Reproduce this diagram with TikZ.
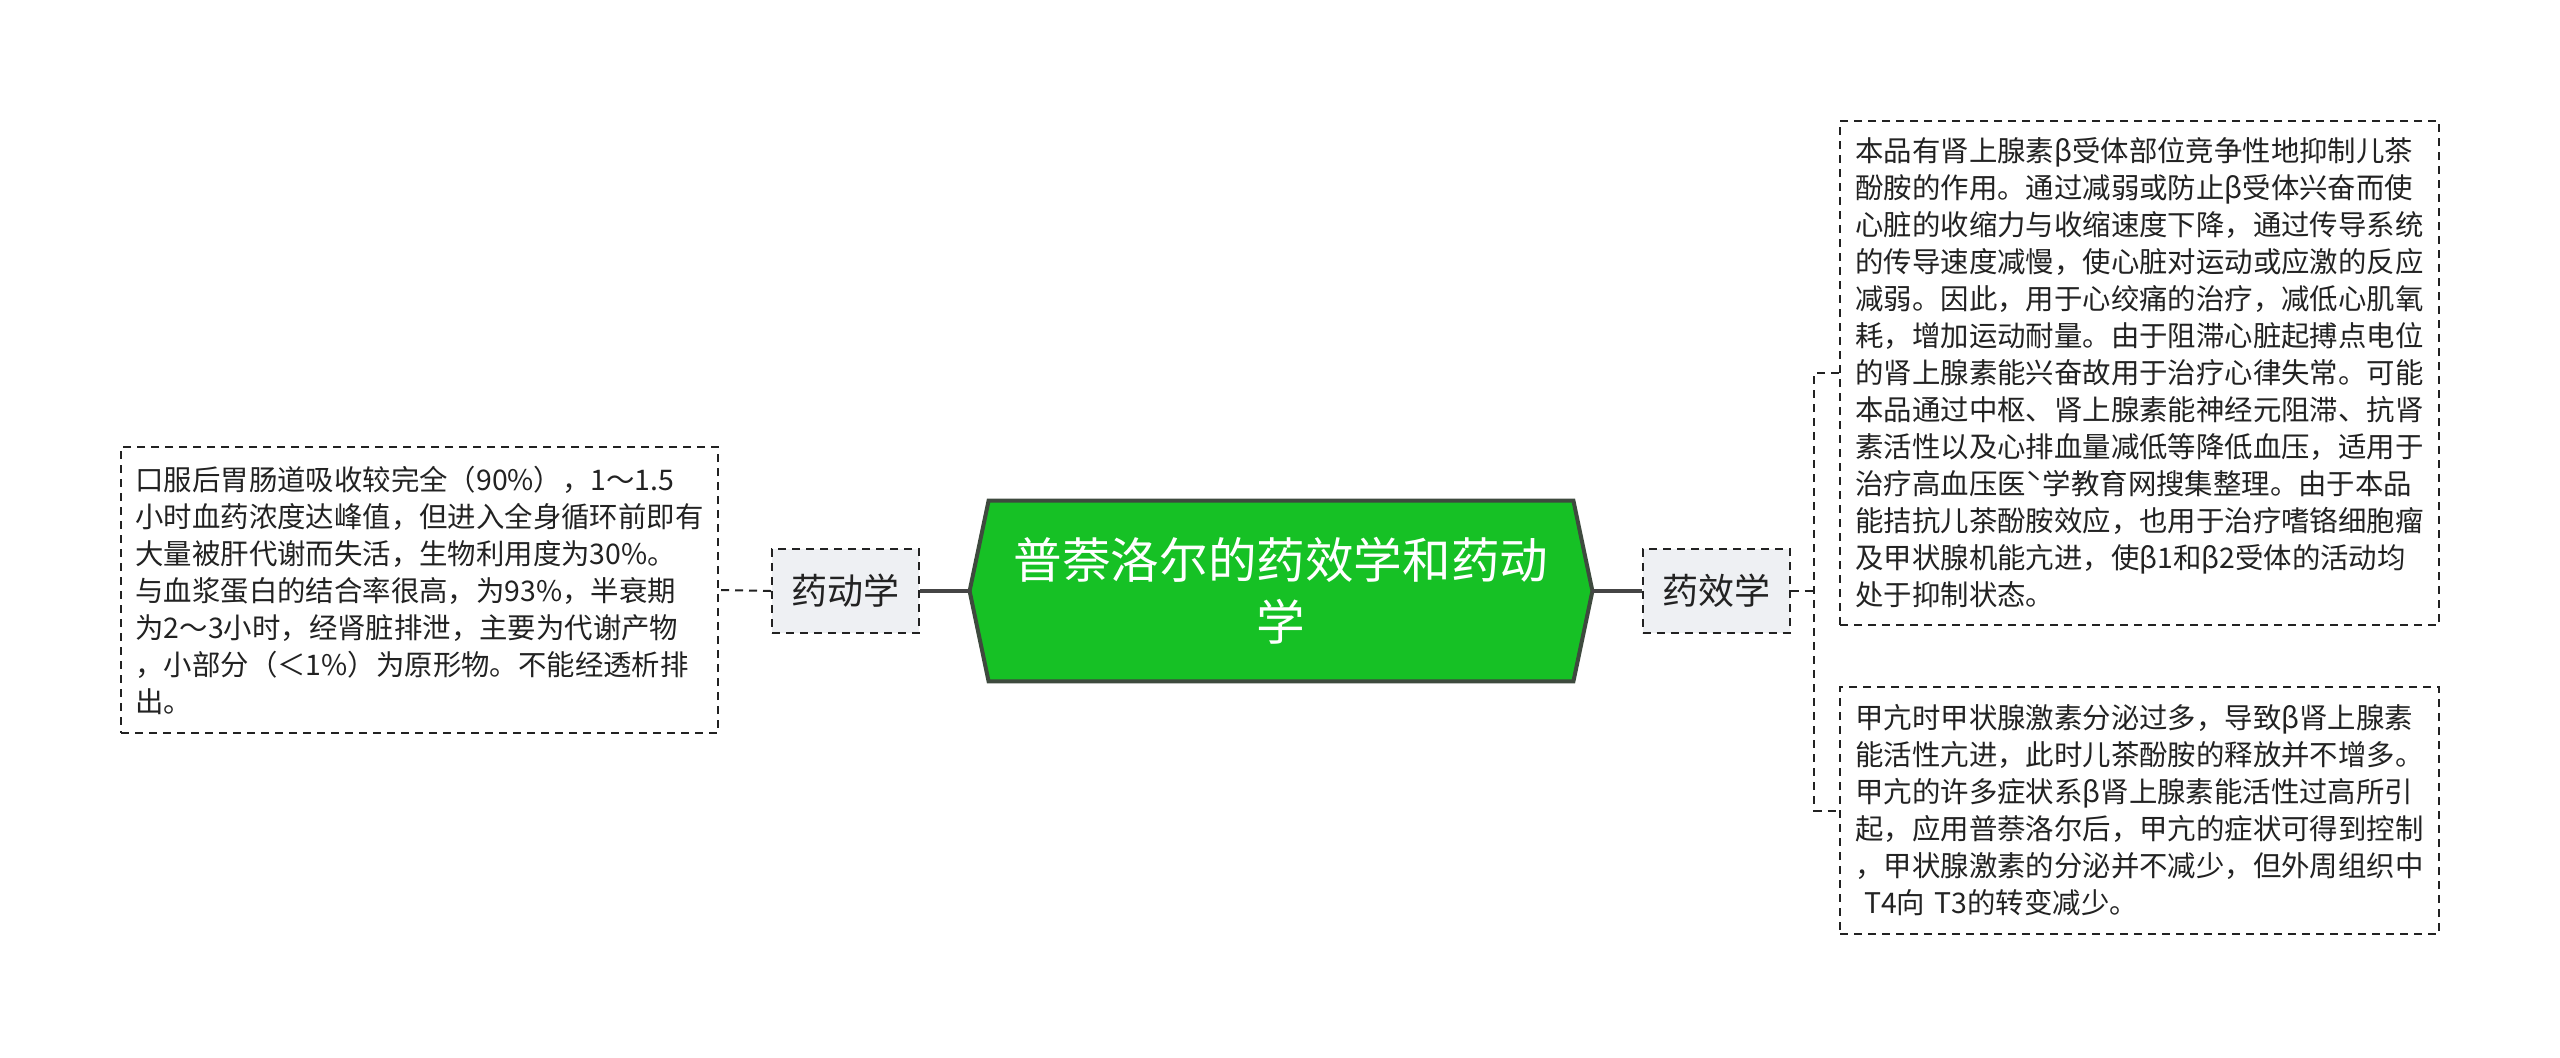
\documentclass[tikz,border=0pt]{standalone}
\usepackage{fontspec}
\setmainfont{Noto Sans CJK SC}
\usetikzlibrary{calc}
\definecolor{hexgreen}{HTML}{16C125}
\definecolor{hexborder}{HTML}{3E4A3E}
\definecolor{linegray}{HTML}{454545}
\definecolor{boxfill}{HTML}{EEF0F3}
\definecolor{txt}{HTML}{222222}
\begin{document}
\begin{tikzpicture}[x=0.5pt,y=-0.5pt,
  dashbox/.style={draw=txt, line width=1pt, dash pattern=on 4pt off 3pt, inner sep=0pt},
  textbox/.style={dashbox, fill=white, align=left, text=txt,
    font=\fontsize{14.2pt}{18.5pt}\selectfont, text width=284pt},
  topicbox/.style={dashbox, fill=boxfill, text=txt, font=\fontsize{18pt}{22pt}\selectfont,
    minimum width=73.5pt, minimum height=42pt},
  hexframe/.style={minimum width=311pt, minimum height=90pt, inner sep=0pt},
  hextext/.style={text=white, align=center, font=\fontsize{24.3pt}{31pt}\selectfont},
  thickline/.style={draw=linegray, line width=2pt},
  dashline/.style={draw=txt, line width=1pt, dash pattern=on 4pt off 3pt}
]
\useasboundingbox (0,0) rectangle (2560,1057);

% central topic
\node[hexframe] (c) at (1281,591) {};
\draw[fill=hexgreen, draw=hexborder, line width=2pt, line join=miter]
  ($(c.north west)+(19,0)$) -- ($(c.north east)+(-19,0)$) -- (c.east) --
  ($(c.south east)+(-19,0)$) -- ($(c.south west)+(19,0)$) -- (c.west) -- cycle;
\node[hextext] (ct) at (c.center) {普萘洛尔的药效学和药动\\学};

% subtopics
\node[topicbox] (dyx) at (845.5,591) {药动学};
\node[topicbox] (xx) at (1716,591) {药效学};

% left text
\node[textbox, minimum width=298.5pt, minimum height=143pt] (lt) at (419.5,590) {%
口服后胃肠道吸收较完全（90\%），1～1.5\\
小时血药浓度达峰值，但进入全身循环前即有\\
大量被肝代谢而失活，生物利用度为30\%。\\
与血浆蛋白的结合率很高，为93\%，半衰期\\
为2～3小时，经肾脏排泄，主要为代谢产物\\
，小部分（＜1\%）为原形物。不能经透析排\\
出。};

% right texts
\node[textbox, minimum width=299.5pt, minimum height=252pt] (rt) at (2139.5,373) {%
本品有肾上腺素β受体部位竞争性地抑制儿茶\\
酚胺的作用。通过减弱或防止β受体兴奋而使\\
心脏的收缩力与收缩速度下降，通过传导系统\\
的传导速度减慢，使心脏对运动或应激的反应\\
减弱。因此，用于心绞痛的治疗，减低心肌氧\\
耗，增加运动耐量。由于阻滞心脏起搏点电位\\
的肾上腺素能兴奋故用于治疗心律失常。可能\\
本品通过中枢、肾上腺素能神经元阻滞、抗肾\\
素活性以及心排血量减低等降低血压，适用于\\
治疗高血压医ˋ学教育网搜集整理。由于本品\\
能拮抗儿茶酚胺效应，也用于治疗嗜铬细胞瘤\\
及甲状腺机能亢进，使β1和β2受体的活动均\\
处于抑制状态。};

\node[textbox, minimum width=299.5pt, minimum height=123.5pt] (rb) at (2139.5,810.5) {%
甲亢时甲状腺激素分泌过多，导致β肾上腺素\\
能活性亢进，此时儿茶酚胺的释放并不增多。\\
甲亢的许多症状系β肾上腺素能活性过高所引\\
起，应用普萘洛尔后，甲亢的症状可得到控制\\
，甲状腺激素的分泌并不减少，但外周组织中\\
\hspace*{0.3em}T4向 T3的转变减少。};

% connectors
\draw[thickline] (c.west) -- (dyx.east);
\draw[thickline] (c.east) -- (xx.west);
\draw[dashline] (dyx.west) -- (lt.east);
\coordinate (br) at (1815,591);
\draw[dashline] (xx.east) -- (br);
\draw[dashline] (rt.west) -- ++(-25,0) |- (rb.west);
\end{tikzpicture}
\end{document}
